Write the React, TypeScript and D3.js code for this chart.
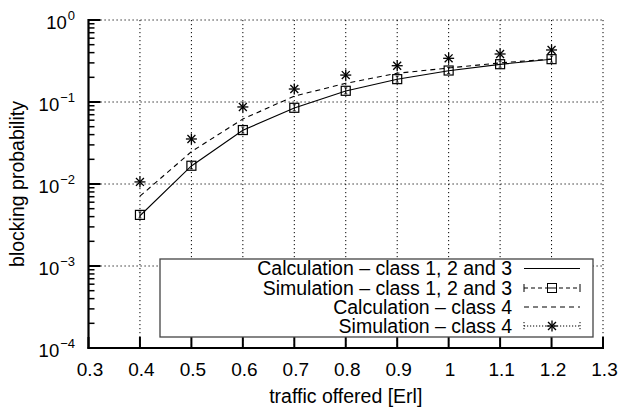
import React from "react";
import * as d3 from "d3";

const traffic = [0.4, 0.5, 0.6, 0.7, 0.8, 0.9, 1.0, 1.1, 1.2];
const calcClass123 = [0.0041, 0.0166, 0.0452, 0.0845, 0.136, 0.189, 0.241, 0.288, 0.332];
const simClass123 = [0.0042, 0.0167, 0.0455, 0.085, 0.137, 0.19, 0.242, 0.289, 0.333];
const calcClass4 = [0.0071, 0.0248, 0.062, 0.118, 0.169, 0.224, 0.26, 0.3, 0.334];
const simClass4 = [0.0106, 0.0354, 0.087, 0.144, 0.213, 0.277, 0.341, 0.385, 0.431];
const xTicks = [0.3, 0.4, 0.5, 0.6, 0.7, 0.8, 0.9, 1.0, 1.1, 1.2, 1.3];
const yExponents = [0, -1, -2, -3, -4];
const legendLabels = [
  "Calculation – class 1, 2 and 3",
  "Simulation – class 1, 2 and 3",
  "Calculation – class 4",
  "Simulation – class 4",
];

const W = 620, H = 412;
const L = 88.5, R = 603, T = 20, B = 348;
const FONT = "'Liberation Sans', Arial, Helvetica, sans-serif";

function Star({ x, y, s = 5.5 }: { x: number; y: number; s?: number }) {
  const d = s * 0.72;
  return (
    <g stroke="#000" strokeWidth={1.3}>
      <line x1={x - s} y1={y} x2={x + s} y2={y} />
      <line x1={x} y1={y - s} x2={x} y2={y + s} />
      <line x1={x - d} y1={y - d} x2={x + d} y2={y + d} />
      <line x1={x - d} y1={y + d} x2={x + d} y2={y - d} />
    </g>
  );
}

function Square({ x, y, s = 4.5 }: { x: number; y: number; s?: number }) {
  return (
    <g stroke="#000" fill="none">
      <rect x={x - s} y={y - s} width={2 * s} height={2 * s} strokeWidth={1.2} />
      <line x1={x} y1={y - 3} x2={x} y2={y + 3} strokeWidth={1} />
      <line x1={x - 1.5} y1={y - 3} x2={x + 1.5} y2={y - 3} strokeWidth={0.8} />
      <line x1={x - 1.5} y1={y + 3} x2={x + 1.5} y2={y + 3} strokeWidth={0.8} />
    </g>
  );
}

export default function App() {
  const x = d3.scaleLinear().domain([0.3, 1.3]).range([L, R]);
  const y = d3.scaleLog().domain([1e-4, 1]).range([B, T]);
  const line = d3
    .line<[number, number]>()
    .x((d) => x(d[0]))
    .y((d) => y(d[1]));
  const pts = (vals: number[]) => traffic.map((t, i) => [t, vals[i]] as [number, number]);

  const minor: number[] = [];
  for (let e = -4; e < 0; e++) for (let k = 2; k <= 9; k++) minor.push(k * Math.pow(10, e));

  const grid = { stroke: "#000", strokeWidth: 1, strokeDasharray: "1.2,2.8" };
  const lx1 = 524, lx2 = 580, lmid = 552;
  const rowY = [268.5, 288, 307, 326];

  return (
    <svg width={W} height={H} style={{ position: "absolute", left: 0, top: 0, background: "#fff" }} fontFamily={FONT}>
      <rect x={0} y={0} width={W} height={H} fill="#fff" />
      {/* grid */}
      {xTicks.slice(1).map((t) => (
        <line key={"gx" + t} x1={x(t)} x2={x(t)} y1={T} y2={B} {...grid} />
      ))}
      {yExponents.slice(0, 4).map((e) => (
        <line key={"gy" + e} x1={L} x2={R} y1={y(Math.pow(10, e))} y2={y(Math.pow(10, e))} {...grid} />
      ))}
      {/* ticks */}
      {xTicks.map((t) => (
        <line key={"tx" + t} x1={x(t)} x2={x(t)} y1={B} y2={B - 11} stroke="#000" strokeWidth={2} />
      ))}
      {yExponents.map((e) => (
        <line key={"ty" + e} x1={L} x2={L + 12} y1={y(Math.pow(10, e))} y2={y(Math.pow(10, e))} stroke="#000" strokeWidth={2} />
      ))}
      {minor.map((v, i) => (
        <line key={"mt" + i} x1={L} x2={L + 6} y1={y(v)} y2={y(v)} stroke="#000" strokeWidth={1.5} />
      ))}
      {/* data */}
      <path d={line(pts(calcClass123)) || ""} fill="none" stroke="#000" strokeWidth={1.1} />
      <path d={line(pts(calcClass4)) || ""} fill="none" stroke="#000" strokeWidth={1.1} strokeDasharray="5,4" />
      {pts(simClass123).map((p, i) => (
        <Square key={"sq" + i} x={x(p[0])} y={y(p[1])} />
      ))}
      {pts(simClass4).map((p, i) => (
        <Star key={"st" + i} x={x(p[0])} y={y(p[1])} />
      ))}
      {/* axes */}
      <line x1={L} x2={L} y1={T - 1} y2={B + 1} stroke="#000" strokeWidth={2.2} />
      <line x1={L - 1} x2={R + 1} y1={B} y2={B} stroke="#000" strokeWidth={2.2} />
      {/* tick labels */}
      {xTicks.map((t) => (
        <text key={"lx" + t} x={x(t) + 1.5} y={376} textAnchor="middle" fontSize={19}>
          {d3.format("~g")(t)}
        </text>
      ))}
      {yExponents.map((e) => (
        <text key={"ly" + e} x={75} y={y(Math.pow(10, e)) + 8.5} textAnchor="end" fontSize={18.5}>
          10
          <tspan fontSize={13} dx={1} dy={-9}>
            {e === 0 ? "0" : "−" + Math.abs(e)}
          </tspan>
        </text>
      ))}
      {/* axis labels */}
      <text x={(L + R) / 2} y={403} textAnchor="middle" fontSize={19.5}>
        traffic offered [Erl]
      </text>
      <text transform={`translate(24,${(T + B) / 2}) rotate(-90)`} textAnchor="middle" fontSize={19.5}>
        blocking probability
      </text>
      {/* legend */}
      <rect x={160} y={259} width={433} height={78} fill="#fff" stroke="#444" strokeWidth={1.3} />
      {legendLabels.map((lab, i) => (
        <text key={"lg" + i} x={512} y={rowY[i] + 6.5} textAnchor="end" fontSize={19.5}>
          {lab}
        </text>
      ))}
      <line x1={lx1} x2={lx2} y1={rowY[0]} y2={rowY[0]} stroke="#000" strokeWidth={1.1} />
      <g stroke="#000" strokeWidth={1}>
        <line x1={lx1} x2={lx2} y1={rowY[1]} y2={rowY[1]} strokeDasharray="4,3" />
        <line x1={lx1} x2={lx1} y1={rowY[1] - 4} y2={rowY[1] + 4} />
        <line x1={lx2} x2={lx2} y1={rowY[1] - 4} y2={rowY[1] + 4} />
      </g>
      <rect x={lmid - 4.5} y={rowY[1] - 4.5} width={9} height={9} fill="#fff" stroke="#000" strokeWidth={1} />
      <line x1={lmid - 4.5} x2={lmid + 4.5} y1={rowY[1]} y2={rowY[1]} stroke="#000" strokeWidth={1} />
      <line x1={lx1} x2={lx2} y1={rowY[2]} y2={rowY[2]} stroke="#000" strokeWidth={1.1} strokeDasharray="5,4" />
      <g stroke="#000" strokeWidth={1} strokeDasharray="1.2,1.8">
        <line x1={lx1} x2={lx2} y1={rowY[3]} y2={rowY[3]} />
        <line x1={lx1} x2={lx1} y1={rowY[3] - 4} y2={rowY[3] + 4} />
        <line x1={lx2} x2={lx2} y1={rowY[3] - 4} y2={rowY[3] + 4} />
      </g>
      <Star x={lmid} y={rowY[3]} />
    </svg>
  );
}
